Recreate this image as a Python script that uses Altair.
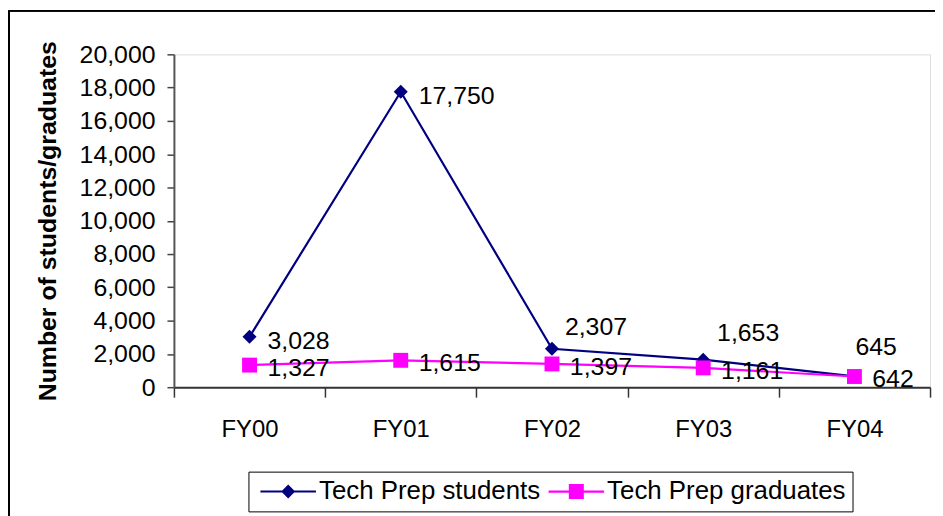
import altair as alt
import pandas as pd
import json

years = ["FY00", "FY01", "FY02", "FY03", "FY04"]
students = [3028, 17750, 2307, 1653, 645]
graduates = [1327, 1615, 1397, 1161, 642]
series_names = ["Tech Prep students", "Tech Prep graduates"]
series_colors = ["#000080", "#FF00FF"]
y_ticks = [0, 2000, 4000, 6000, 8000, 10000, 12000, 14000, 16000, 18000, 20000]

rows = []
for name, vals in zip(series_names, [students, graduates]):
    for yr, v in zip(years, vals):
        rows.append({"year": yr, "value": v, "series": name})
df = pd.DataFrame(rows)

FONT = "Liberation Sans"
W, H = 761, 335

x_enc = alt.X(
    "year:N",
    sort=years,
    bandPosition=0.5,
    scale=alt.Scale(type="band", domain=years, paddingInner=0, paddingOuter=0),
    axis=alt.Axis(
        title=None, tickBand="extent", labelAngle=0, labelFont=FONT, labelFontSize=24,
        labelColor="black", labelPadding=21, tickSize=10, tickColor="#333333",
        tickWidth=1.5, domainColor="#333333", domainWidth=2, grid=False,
    ),
)
y_enc = alt.Y(
    "value:Q",
    scale=alt.Scale(domain=[0, 20000], nice=False, zero=True),
    axis=alt.Axis(
        title="Number of students/graduates", values=y_ticks, format=",d",
        labelFont=FONT, labelFontSize=25, labelColor="black", labelPadding=12,
        tickSize=7, tickColor="#444444", tickWidth=1.5, domainColor="#555555",
        domainWidth=2, grid=False, titleFont=FONT, titleFontSize=25,
        titleFontWeight="bold", titleColor="black", titlePadding=19,
    ),
)
color_scale = alt.Scale(domain=series_names, range=series_colors)

# legend symbols: line with marker; unit = 13 px (symbolSize 676)
legend_paths = [
    "M-2.15,-0.077H2.15V0.077H-2.15ZM0,-0.54L0.54,0L0,0.54L-0.54,0Z",
    "M-2.15,-0.087H2.15V0.087H-2.15ZM-0.58,-0.58H0.58V0.58H-0.58Z",
]
legend_props = dict(
    title=None, orient="none", legendX=75, legendY=420, direction="horizontal",
    labelFont=FONT, labelFontSize=26, labelColor="black", labelOffset=18,
    symbolSize=676, symbolOffset=20, symbolStrokeWidth=0,
    columnPadding=3, padding=7, strokeColor="black", fillColor="white",
    labelLimit=400,
)
color_enc = alt.Color("series:N", scale=color_scale, legend=alt.Legend(**legend_props))

base = alt.Chart(df)

lines = base.mark_line(strokeWidth=2.2).encode(
    x=x_enc, y=y_enc, color=color_enc,
)

def point_layer(series, shape, size):
    return base.transform_filter(f"datum.series == {json.dumps(series)}").mark_point(
        filled=True, opacity=1, shape=shape, size=size
    ).encode(x=x_enc, y=y_enc, color=color_enc)

points_students = point_layer(series_names[0], "diamond", 200)
points_graduates = point_layer(series_names[1], "square", 225)

legend_layer = base.mark_point(filled=True, size=0).encode(
    x=x_enc, y=y_enc,
    color=color_enc,
    shape=alt.Shape("series:N", scale=alt.Scale(domain=series_names, range=legend_paths),
                    legend=alt.Legend(**legend_props)),
)

def label_layer(series, yrs, dx, dy):
    expr = f"datum.series == {json.dumps(series)} && indexof({json.dumps(yrs)}, datum.year) >= 0"
    return base.transform_filter(expr).mark_text(
        align="left", baseline="middle", dx=dx, dy=dy, font=FONT, fontSize=25, color="black"
    ).encode(x=x_enc, y=y_enc, text=alt.Text("value:Q", format=",d"))

labels = [
    label_layer(series_names[1], years, 18, 3),
    label_layer(series_names[0], years[0:2], 18, 4),
    label_layer(series_names[0], [years[2]], 13, -22),
    label_layer(series_names[0], [years[3]], 14, -27),
    label_layer(series_names[0], [years[4]], 1, -30),
]

frame_top = base.mark_rule(color="black", strokeWidth=1.5).encode(
    x=alt.value(-166), x2=alt.value(780), y=alt.value(-44)
)
frame_left = base.mark_rule(color="black", strokeWidth=1.5).encode(
    x=alt.value(-166), y=alt.value(-44), y2=alt.value(470)
)

chart = alt.layer(
    frame_top, frame_left, lines, points_students, points_graduates, legend_layer, *labels
).properties(
    width=W, height=H,
    autosize=alt.AutoSizeParams(type="none"),
    padding={"left": 167, "top": 45, "right": 5, "bottom": 128},
).configure_view(stroke="#888888", strokeWidth=2.5).configure(background="white")

chart.save("out.html", embed_options={"renderer": "svg", "actions": False})
